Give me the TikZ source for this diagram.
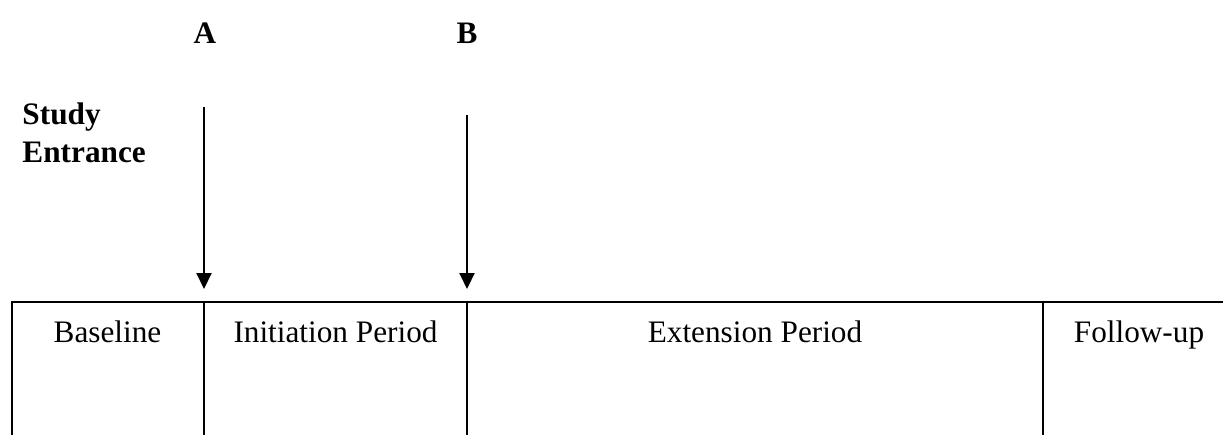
\documentclass[tikz,border=0pt]{standalone}
\usepackage{fontspec}
\setmainfont{Liberation Serif}
\usetikzlibrary{arrows.meta}
\begin{document}
\begin{tikzpicture}[x=0.4pt,y=-0.4pt]
	\tikzstyle{timepoint}=[font=\fontsize{12.5}{15.2}\selectfont\bfseries,inner sep=0pt,anchor=base]
	\tikzstyle{period}=[font=\fontsize{12.5}{15.2}\selectfont,inner sep=0pt,anchor=base]
	\tikzstyle{edge}=[draw,line width=0.8pt,-{Triangle[width=6pt,length=6.4pt]}]
	\tikzstyle{frame}=[draw,line width=0.8pt]
	\useasboundingbox (0,0) rectangle (1223,435);
	\begin{scope}
		\node [timepoint] (tA) at (205,43) {A};
		\node [timepoint] (tB) at (467,43) {B};
		\node [timepoint,anchor=base west,align=left] (entry) at (22,162) {Study\\Entrance};
		\coordinate (a0) at (204,107);
		\coordinate (a1) at (204,289);
		\coordinate (b0) at (467,115);
		\coordinate (b1) at (467,289);
		\path[edge] (a0) -- (a1);
		\path[edge] (b0) -- (b1);
	\end{scope}
	\begin{scope}
		% time line
		\path[frame] (12,435) -- (12,302) -- (1223,302);
		\path[frame] (204,302) -- (204,435);
		\path[frame] (467,302) -- (467,435);
		\path[frame] (1043,302) -- (1043,435);
		\node [period] (base) at (107.5,342) {Baseline};
		\node [period] (init) at (335.5,342) {Initiation Period};
		\node [period] (ext) at (755,342) {Extension Period};
		\node [period] (fol) at (1139,342) {Follow-up};
	\end{scope}
\end{tikzpicture}
\end{document}
